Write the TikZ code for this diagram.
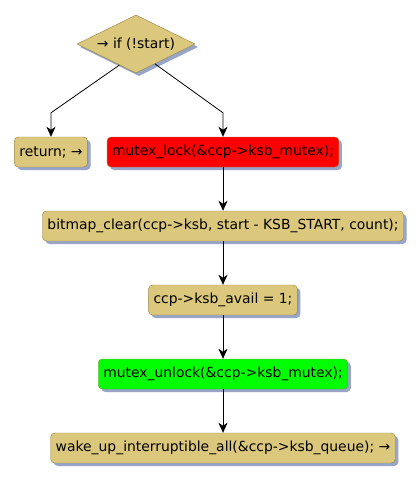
\documentclass[tikz,border=0pt]{standalone}
\usepackage{fontspec}
\setmainfont{DejaVu Sans}
\usetikzlibrary{shapes.geometric,arrows.meta,shadows,calc}
\definecolor{stepfill}{RGB}{220,200,125}
\definecolor{stepline}{RGB}{150,130,65}
\definecolor{shadowblue}{RGB}{150,165,200}

\tikzset{
    stepbox/.style={rectangle, rounded corners=4pt, draw=stepline, fill=stepfill,
        minimum height=30pt, inner xsep=5pt, inner ysep=0pt,
        general shadow={shadow xshift=3pt, shadow yshift=-3pt, fill=shadowblue}},
    decbox/.style={diamond, shape aspect=2, draw=stepline, fill=stepfill,
        minimum width=118pt, minimum height=58pt, inner sep=0pt,
        general shadow={shadow xshift=3pt, shadow yshift=-3pt, fill=shadowblue}},
    arr/.style={-{Stealth[length=10pt, width=9pt, inset=3pt]}, thick}
}

\begin{document}
\begin{tikzpicture}[x=1pt, y=-1pt, font=\fontsize{13.9}{16}\selectfont]
    \useasboundingbox[fill=white] (0,0) rectangle (420,482);

    % Decision
    \node[decbox] (dec) at (136,44) {→ if (!start)};

    % Branches
    \node[stepbox] (ret) at (51,152) {return; →};
    \node[stepbox, fill=red] (lock) at (223,152) {mutex\_lock(\&ccp->ksb\_mutex);};

    % Main sequence
    \node[stepbox] (clear) at (223,226) {bitmap\_clear(ccp->ksb, start - KSB\_START, count);};
    \node[stepbox] (avail) at (223,300) {ccp->ksb\_avail = 1;};
    \node[stepbox, fill=green] (unlock) at (223,374) {mutex\_unlock(\&ccp->ksb\_mutex);};
    \node[stepbox] (wake) at (223,448) {wake\_up\_interruptible\_all(\&ccp->ksb\_queue); →};

    % Connectors
    \draw[arr] ($(dec.west)!0.72!(dec.south)$) -- ([yshift=24pt]ret.north) -- (ret.north);
    \draw[arr] ($(dec.east)!0.68!(dec.south)$) -- ([yshift=24pt]lock.north) -- (lock.north);
    \draw[arr] (lock) -- (clear);
    \draw[arr] (clear) -- (avail);
    \draw[arr] (avail) -- (unlock);
    \draw[arr] (unlock) -- (wake);
\end{tikzpicture}
\end{document}
